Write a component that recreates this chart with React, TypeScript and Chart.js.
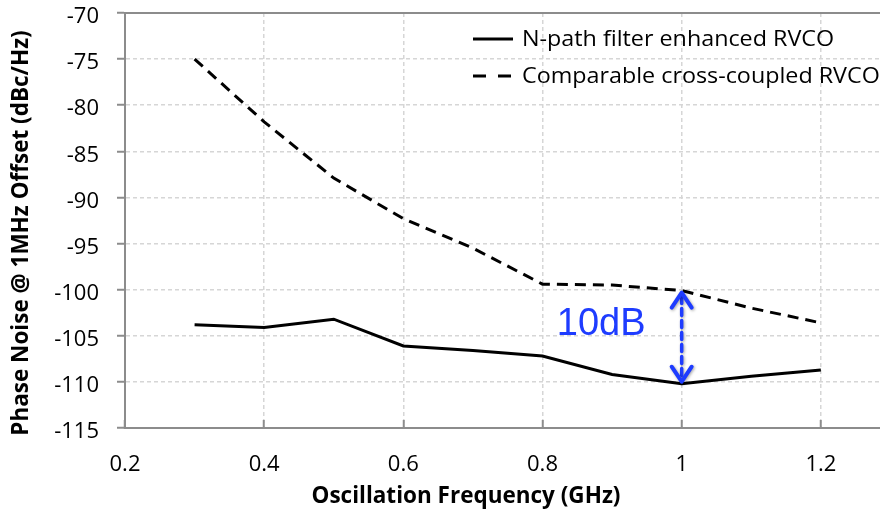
import React, { useEffect, useRef } from 'react';
import { Chart, registerables } from 'chart.js';

Chart.register(...registerables);

// ---- data ----
const frequencyGHz = [0.3, 0.4, 0.5, 0.6, 0.7, 0.8, 0.9, 1.0, 1.1, 1.2];
const npathPhaseNoise = [-103.8, -104.1, -103.2, -106.1, -106.6, -107.2, -109.2, -110.2, -109.4, -108.7];
const crossCoupledPhaseNoise = [-75.0, -81.8, -87.9, -92.3, -95.5, -99.4, -99.5, -100.1, -102.0, -103.6];
const seriesLabels = ['N-path filter enhanced RVCO', 'Comparable cross-coupled RVCO'];
const xTickValues = [0.2, 0.4, 0.6, 0.8, 1.0, 1.2];
const yTickValues = [-70, -75, -80, -85, -90, -95, -100, -105, -110, -115];
const xAxisTitle = 'Oscillation Frequency (GHz)';
const yAxisTitle = 'Phase Noise @ 1MHz Offset (dBc/Hz)';
const gapLabel = '10dB';
const gapIndex = 7;
const gapLabelAt = [0.948, -103.8];

// ---- styles ----
const FONT = "'Open Sans', 'Noto Sans', sans-serif";
const AXIS_GREY = '#8c8c8c';
const GRID_GREY = '#d6d6d6';
const BLUE = '#1e3cff';
const W = 880;
const H = 517;

const zeroPadding = (s: any) => {
  s.paddingTop = 0;
  s.paddingBottom = 0;
  s.paddingLeft = 0;
  s.paddingRight = 0;
};

const overlayPlugin = {
  id: 'overlay',
  afterDatasetsDraw(chart: any) {
    const { ctx, chartArea } = chart;
    const x = chart.scales.x;
    const y = chart.scales.y;

    // gap arrow
    const px = x.getPixelForValue(frequencyGHz[gapIndex]);
    const top = y.getPixelForValue(crossCoupledPhaseNoise[gapIndex]);
    const bot = y.getPixelForValue(npathPhaseNoise[gapIndex]);
    ctx.save();
    ctx.strokeStyle = BLUE;
    ctx.lineCap = 'round';
    ctx.lineJoin = 'round';
    ctx.shadowColor = 'rgba(0,0,0,0.35)';
    ctx.shadowBlur = 3;
    ctx.shadowOffsetX = 1;
    ctx.shadowOffsetY = 1;
    ctx.lineWidth = 3.5;
    ctx.setLineDash([7, 5]);
    ctx.beginPath();
    ctx.moveTo(px, top + 6);
    ctx.lineTo(px, bot - 6);
    ctx.stroke();
    ctx.setLineDash([]);
    ctx.lineWidth = 4;
    ctx.beginPath();
    ctx.moveTo(px - 10, top + 17);
    ctx.lineTo(px, top + 2);
    ctx.lineTo(px + 10, top + 17);
    ctx.stroke();
    ctx.beginPath();
    ctx.moveTo(px - 10, bot - 17);
    ctx.lineTo(px, bot - 2);
    ctx.lineTo(px + 10, bot - 17);
    ctx.stroke();
    ctx.restore();

    ctx.save();
    ctx.fillStyle = BLUE;
    ctx.font = "38px 'Liberation Sans', Arial, sans-serif";
    ctx.textAlign = 'right';
    ctx.textBaseline = 'middle';
    ctx.fillText(gapLabel, x.getPixelForValue(gapLabelAt[0]), y.getPixelForValue(gapLabelAt[1]));
    ctx.restore();

    // legend (inside plot, top right)
    const datasets = chart.data.datasets;
    const sx1 = chartArea.right - 407;
    const sx2 = chartArea.right - 367;
    const tx = chartArea.right - 358;
    const rows = [chartArea.top + 26, chartArea.top + 63];
    datasets.forEach((ds: any, i: number) => {
      const ry = rows[i];
      ctx.save();
      ctx.strokeStyle = ds.borderColor;
      ctx.lineWidth = ds.borderWidth;
      ctx.setLineDash(ds.borderDash ? [13, 12] : []);
      ctx.beginPath();
      ctx.moveTo(sx1, ry);
      ctx.lineTo(sx2, ry);
      ctx.stroke();
      ctx.restore();
      ctx.save();
      ctx.fillStyle = '#000';
      ctx.font = `21px ${FONT}`;
      ctx.textAlign = 'left';
      ctx.textBaseline = 'middle';
      ctx.translate(tx, ry + 1);
      ctx.scale(1.11, 1);
      ctx.fillText(ds.label, 0, 0);
      ctx.restore();
    });
  },
  afterDraw(chart: any) {
    const { ctx } = chart;
    ctx.save();
    ctx.fillStyle = '#000';
    ctx.font = `bold 22.5px ${FONT}`;
    ctx.textAlign = 'center';
    ctx.textBaseline = 'middle';
    ctx.fillText(xAxisTitle, 466, 497);
    ctx.translate(22, 233);
    ctx.rotate(-Math.PI / 2);
    ctx.fillText(yAxisTitle, 0, 0);
    ctx.restore();
  },
};

export default function App() {
  const canvasRef = useRef<HTMLCanvasElement | null>(null);

  useEffect(() => {
    if (!canvasRef.current) return;
    const chart = new Chart(canvasRef.current, {
      type: 'line',
      data: {
        datasets: [
          {
            label: seriesLabels[0],
            data: frequencyGHz.map((f, i) => ({ x: f, y: npathPhaseNoise[i] })),
            borderColor: '#000',
            borderWidth: 3,
            pointRadius: 0,
            tension: 0,
            fill: false,
          },
          {
            label: seriesLabels[1],
            data: frequencyGHz.map((f, i) => ({ x: f, y: crossCoupledPhaseNoise[i] })),
            borderColor: '#000',
            borderWidth: 3,
            borderDash: [11, 7],
            pointRadius: 0,
            tension: 0,
            fill: false,
          },
        ],
      },
      options: {
        responsive: false,
        animation: false,
        layout: { padding: 0, autoPadding: false },
        plugins: {
          legend: { display: false },
          tooltip: { enabled: false },
        },
        scales: {
          x: {
            type: 'linear',
            position: 'bottom',
            min: 0.2,
            max: 1.285,
            afterFit: (s: any) => {
              s.height = H - 428;
              zeroPadding(s);
            },
            afterBuildTicks: (s: any) => {
              s.ticks = xTickValues.map((v) => ({ value: v }));
            },
            ticks: {
              font: { family: FONT, size: 22 },
              color: '#000',
              padding: 32,
              maxRotation: 0,
              autoSkip: false,
              callback: (v: any) => String(Math.round(Number(v) * 10) / 10),
            },
            grid: {
              color: (c: any) => (c.tick && Math.abs(c.tick.value - 0.2) < 1e-6 ? 'rgba(0,0,0,0)' : GRID_GREY),
              lineWidth: 1.5,
              tickLength: -8,
              tickColor: AXIS_GREY,
              tickWidth: 2,
            },
            border: { display: true, color: AXIS_GREY, width: 2, dash: [4, 3] },
          },
          x2: {
            type: 'linear',
            position: 'top',
            min: 0.2,
            max: 1.285,
            afterFit: (s: any) => {
              s.height = 13;
              zeroPadding(s);
            },
            ticks: { display: false },
            grid: { display: false },
            border: { display: true, color: AXIS_GREY, width: 2 },
          },
          y: {
            type: 'linear',
            position: 'left',
            min: -115,
            max: -70,
            afterFit: (s: any) => {
              s.width = 125;
              zeroPadding(s);
            },
            afterBuildTicks: (s: any) => {
              s.ticks = yTickValues.map((v) => ({ value: v }));
            },
            ticks: {
              font: { family: FONT, size: 22 },
              color: '#000',
              padding: 18,
              labelOffset: 4,
              autoSkip: false,
              callback: (v: any) => String(v),
            },
            grid: {
              color: (c: any) =>
                c.tick && (c.tick.value === -70 || c.tick.value === -115) ? 'rgba(0,0,0,0)' : GRID_GREY,
              lineWidth: 1.5,
              tickLength: 8,
              tickColor: AXIS_GREY,
              tickWidth: 2,
            },
            border: { display: true, color: AXIS_GREY, width: 2, dash: [4, 3] },
          },
        },
      },
      plugins: [overlayPlugin],
    } as any);
    return () => chart.destroy();
  }, []);

  return (
    <div style={{ position: 'fixed', left: 0, top: 0, width: W, height: H, background: '#fff', overflow: 'hidden' }}>
      <canvas ref={canvasRef} width={W} height={H} style={{ display: 'block', width: W, height: H }} />
    </div>
  );
}
